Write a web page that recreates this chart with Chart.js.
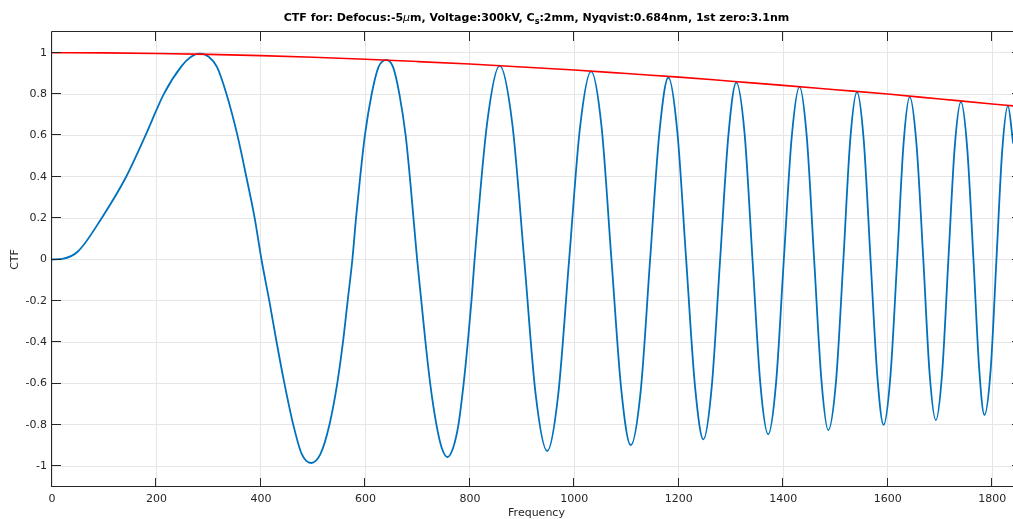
<!DOCTYPE html>
<html>
<head>
<meta charset="utf-8">
<script src="https://cdn.jsdelivr.net/npm/chart.js@4.4.0/dist/chart.umd.min.js"></script>
<style>
  html, body { margin: 0; padding: 0; background: #fff; overflow: hidden; width: 1013px; height: 519px; }
  /* the axes run a few pixels past the right edge of the window, as in the original figure */
  #wrap { width: 1021px; height: 519px; }
</style>
</head>
<body>
<div id="wrap"><canvas id="ctfChart" width="1021" height="519"></canvas></div>
<script>
// CTF curve (zeros, extrema and points on the flanks)
const freq = [
    0, 20, 50, 95, 142, 179, 214, 248, 265, 283, 300, 316, 334, 355, 372, 388,
    401, 416, 430, 445, 462, 478, 496, 514, 531, 546, 557, 566,
    575, 582, 590, 599, 612, 625, 640, 653, 665, 677, 685, 692,
    699, 707, 715, 724, 736, 746, 757, 768, 778, 788, 796, 803,
    809, 833, 857, 881, 904, 926, 948, 969, 990, 1011, 1032, 1052,
    1071, 1090, 1108, 1127, 1145, 1163, 1180, 1197, 1214, 1231, 1247, 1263,
    1279, 1295, 1310, 1326, 1341, 1356, 1371, 1386, 1401, 1416, 1431, 1445,
    1459, 1473, 1486, 1501, 1515, 1528, 1541, 1554, 1567, 1580, 1592, 1605,
    1618, 1630, 1642, 1655, 1668, 1680, 1692, 1704, 1716, 1728, 1740, 1752,
    1764, 1775, 1785, 1797, 1808, 1819, 1830, 1840
];
const ctf = [
    0, 0.003, 0.04, 0.2, 0.4, 0.6, 0.8, 0.935, 0.978, 0.995, 0.98, 0.93, 0.8, 0.6, 0.4, 0.2,
    0, -0.2, -0.4, -0.6, -0.8, -0.94, -0.984, -0.94, -0.8, -0.6, -0.4, -0.2,
    0, 0.2, 0.4, 0.6, 0.8, 0.93, 0.965, 0.93, 0.8, 0.6, 0.4, 0.2,
    0, -0.2, -0.4, -0.6, -0.8, -0.91, -0.955, -0.91, -0.8, -0.6, -0.4, -0.2,
    0, 0.66, 0.937, 0.66, 0, -0.655, -0.927, -0.655, 0, 0.643, 0.91, 0.643,
    0, -0.635, -0.898, -0.635, 0, 0.62, 0.88, 0.62, 0, -0.615, -0.87, -0.615,
    0, 0.605, 0.855, 0.605, 0, -0.6, -0.845, -0.6, 0, 0.59, 0.835, 0.59,
    0, -0.585, -0.825, -0.585, 0, 0.575, 0.81, 0.575, 0, -0.565, -0.80, -0.565,
    0, 0.555, 0.786, 0.555, 0, -0.55, -0.777, -0.55, 0, 0.54, 0.762, 0.54,
    0, -0.53, -0.752, -0.53, 0, 0.525, 0.743, 0.56
];

// envelope (red)
const envFreq = [0, 100, 200, 300, 400, 500, 600, 700, 800, 900, 1000,
    1100, 1200, 1300, 1400, 1500, 1600, 1700, 1800, 1840];
const envelope = [1.0, 0.999, 0.996, 0.992, 0.986, 0.978, 0.968, 0.957, 0.945, 0.931, 0.916,
    0.899, 0.882, 0.862, 0.842, 0.821, 0.80, 0.776, 0.752, 0.743];

const xTicks = [0, 200, 400, 600, 800, 1000, 1200, 1400, 1600, 1800];
const yTicks = [-1, -0.8, -0.6, -0.4, -0.2, 0, 0.2, 0.4, 0.6, 0.8, 1];
const yTickLabels = ['-1', '-0.8', '-0.6', '-0.4', '-0.2', '0', '0.2', '0.4', '0.6', '0.8', '1'];

const titleParts = [
    { text: 'CTF for: Defocus:-5', style: 'bold' },
    { text: 'μ', style: 'italic' },
    { text: 'm, Voltage:300kV, C', style: 'bold' },
    { text: 's', style: 'sub' },
    { text: ':2mm, Nyqvist:0.684nm, 1st zero:3.1nm', style: 'bold' }
];

const FONT = '"DejaVu Sans", sans-serif';
const AXIS = '#262626';

// title with subscript / italic mu
const titlePlugin = {
    id: 'ctfTitle',
    afterDraw(chart) {
        const { ctx, chartArea } = chart;
        const fontFor = s => s === 'italic' ? 'italic 11px ' + FONT
            : s === 'sub' ? 'bold 8px ' + FONT : 'bold 11px ' + FONT;
        ctx.save();
        ctx.fillStyle = '#000';
        ctx.textBaseline = 'alphabetic';
        let total = 0;
        titleParts.forEach(p => { ctx.font = fontFor(p.style); total += ctx.measureText(p.text).width; });
        let x = (chartArea.left + chartArea.right) / 2 - total / 2;
        titleParts.forEach(p => {
            ctx.font = fontFor(p.style);
            ctx.fillText(p.text, x, p.style === 'sub' ? 24 : 21);
            x += ctx.measureText(p.text).width;
        });
        ctx.restore();
    }
};

// box round the axes, ticks pointing inward
const boxPlugin = {
    id: 'matlabBox',
    afterDraw(chart) {
        const { ctx, chartArea: a, scales: { x, y } } = chart;
        const len = 9;
        ctx.save();
        ctx.strokeStyle = AXIS;
        ctx.lineWidth = 1;
        ctx.beginPath();
        ctx.rect(Math.round(a.left) - 0.5, Math.round(a.top) - 0.5,
            Math.round(a.right - a.left), Math.round(a.bottom - a.top));
        x.ticks.forEach(t => {
            const px = Math.round(x.getPixelForValue(t.value)) - 0.5;
            ctx.moveTo(px, a.bottom); ctx.lineTo(px, a.bottom - len);
            ctx.moveTo(px, a.top); ctx.lineTo(px, a.top + len);
        });
        y.ticks.forEach(t => {
            const py = Math.round(y.getPixelForValue(t.value)) - 0.5;
            ctx.moveTo(a.left, py); ctx.lineTo(a.left + len, py);
            ctx.moveTo(a.right, py); ctx.lineTo(a.right - len, py);
        });
        ctx.stroke();
        ctx.restore();
    }
};

const tickFont = { family: FONT, size: 11 };

new Chart(document.getElementById('ctfChart'), {
    type: 'line',
    data: {
        datasets: [
            {
                label: 'envelope',
                data: envFreq.map((f, i) => ({ x: f, y: envelope[i] })),
                borderColor: '#ff0000',
                borderWidth: 1.6,
                pointRadius: 0,
                cubicInterpolationMode: 'monotone',
                fill: false
            },
            {
                label: 'CTF',
                data: freq.map((f, i) => ({ x: f, y: ctf[i] })),
                borderColor: '#0072bd',
                borderWidth: 1.8,
                pointRadius: 0,
                cubicInterpolationMode: 'monotone',
                fill: false
            }
        ]
    },
    options: {
        responsive: false,
        animation: false,
        layout: { padding: { top: 32, right: 0, bottom: 0, left: 0 } },
        plugins: {
            legend: { display: false },
            tooltip: { enabled: false },
            title: { display: false }
        },
        scales: {
            x: {
                type: 'linear',
                min: 0,
                max: 1855,
                afterBuildTicks: s => { s.ticks = xTicks.map(v => ({ value: v })); },
                afterFit: s => { s.height = 32; },
                grid: { color: '#e6e6e6', drawTicks: false },
                border: { display: false },
                ticks: { padding: 6, color: AXIS, font: tickFont, maxRotation: 0, autoSkip: false,
                    callback: v => String(v) },
                title: { display: true, text: 'Frequency', color: AXIS, font: tickFont, padding: { top: 0, bottom: -1 } }
            },
            y: {
                type: 'linear',
                min: -1.1,
                max: 1.1,
                afterBuildTicks: s => { s.ticks = yTicks.map(v => ({ value: v })); },
                afterFit: s => { s.width = 52; },
                grid: { color: '#e6e6e6', drawTicks: false },
                border: { display: false },
                ticks: { padding: 5, color: AXIS, font: tickFont, autoSkip: false,
                    callback: (v, i) => yTickLabels[i] },
                title: { display: true, text: 'CTF', color: AXIS, font: tickFont, padding: { top: 9, bottom: 0 } }
            }
        }
    },
    plugins: [titlePlugin, boxPlugin]
});
</script>
</body>
</html>
